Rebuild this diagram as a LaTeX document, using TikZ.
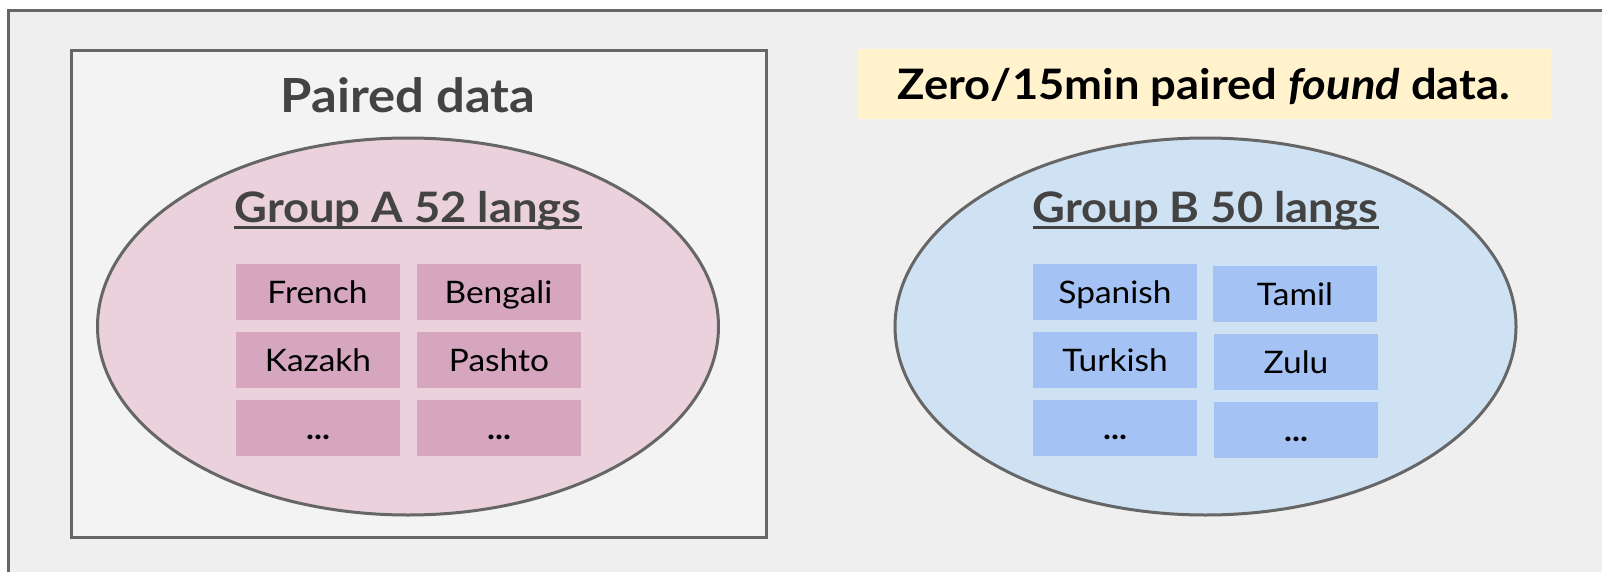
\documentclass[tikz,border=0pt]{standalone}
\usepackage{fontspec}
\setmainfont{Lato}[FakeStretch=1.08]
\usetikzlibrary{shapes.geometric}
\definecolor{edge}{HTML}{666666}
\definecolor{pagebg}{HTML}{EFEFEF}
\definecolor{panelbg}{HTML}{F3F3F3}
\definecolor{title}{HTML}{434343}
\definecolor{pinkfill}{HTML}{EAD1DC}
\definecolor{pinkbox}{HTML}{D5A6BD}
\definecolor{bluefill}{HTML}{CFE2F3}
\definecolor{bluebox}{HTML}{A4C2F4}
\definecolor{notefill}{HTML}{FFF2CC}
\begin{document}
\begin{tikzpicture}[x=1pt,y=-1pt,
  frame/.style={draw=edge, line width=3pt},
  group/.style={ellipse, frame, inner sep=0pt, minimum width=621pt, minimum height=377pt},
  heading/.style={anchor=base, inner sep=0pt, text=title, font=\bfseries\fontsize{47}{52}\selectfont},
  grouptitle/.style={anchor=base, inner sep=0pt, text=title, font=\bfseries\fontsize{42}{48}\selectfont},
  lang/.style={inner sep=0pt, minimum width=164pt, minimum height=56pt,
    text height=22pt, text depth=0pt, font=\fontsize{31}{37}\selectfont},
  langA/.style={lang, fill=pinkbox},
  langB/.style={lang, fill=bluebox},
  uline/.style={draw=title, line width=3pt}
]
\useasboundingbox (0,0) rectangle (1602,572);
\clip (0,0) rectangle (1602,572);
\fill[white] (0,0) rectangle (1602,572);

% outer canvas
\draw[frame, fill=pagebg] (8,11) rectangle (1620,590);

% paired data panel
\draw[frame, fill=panelbg] (71,51) rectangle (766,537);
\node[heading] (paired) at (408,113) {Paired data};

% highlighted note
\node[fill=notefill, inner sep=0pt, minimum width=693pt, minimum height=70pt] (notebox) at (1204.5,84) {};
\node[anchor=base, inner sep=0pt, font=\bfseries\fontsize{42}{48}\selectfont] (note) at (1204,100)
  {Zero/15min paired \textit{found} data.};

% group A
\node[group, fill=pinkfill] (ellA) at (408,326.5) {};
\node[grouptitle] (gA) at (408,222) {Group A 52 langs};
\draw[uline] ([yshift=-5.5pt]gA.base west) -- ([yshift=-5.5pt]gA.base east);
\node[langA] (a11) at (317.5,292) {French};
\node[langA] (a12) at (498.5,292) {Bengali};
\node[langA] (a21) at (318,360) {Kazakh};
\node[langA] (a22) at (499,360) {Pashto};
\node[langA] (a31) at (318,428) {\textbf{...}};
\node[langA] (a32) at (499,428) {\textbf{...}};

% group B
\node[group, fill=bluefill] (ellB) at (1205.5,326.5) {};
\node[grouptitle] (gB) at (1205.5,222) {Group B 50 langs};
\draw[uline] ([yshift=-5.5pt]gB.base west) -- ([yshift=-5.5pt]gB.base east);
\node[langB] (b11) at (1115,292) {Spanish};
\node[langB] (b12) at (1295,294) {Tamil};
\node[langB] (b21) at (1115,360) {Turkish};
\node[langB] (b22) at (1296,362) {Zulu};
\node[langB] (b31) at (1115,428) {\textbf{...}};
\node[langB] (b32) at (1296,430) {\textbf{...}};
\end{tikzpicture}
\end{document}
